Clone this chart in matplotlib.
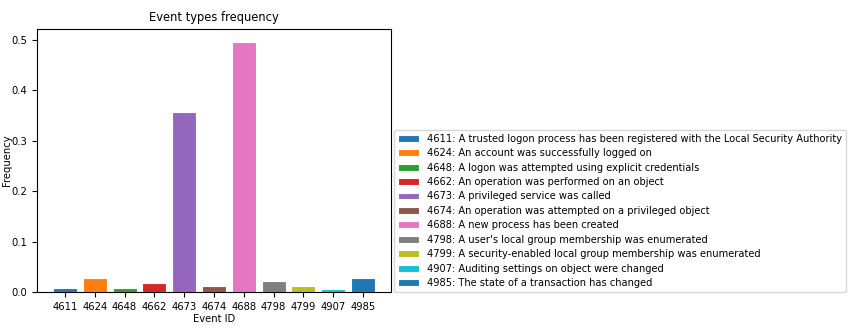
import matplotlib
matplotlib.use("Agg")
import matplotlib.pyplot as plt
import numpy as np

# event ids and their frequency
event_ids = ["4611", "4624", "4648", "4662", "4673", "4674", "4688", "4798", "4799", "4907", "4985"]
frequency = [0.008, 0.028, 0.008, 0.018, 0.357, 0.011, 0.497, 0.021, 0.011, 0.005, 0.027]
descriptions = [
    "A trusted logon process has been registered with the Local Security Authority",
    "An account was successfully logged on",
    "A logon was attempted using explicit credentials",
    "An operation was performed on an object",
    "A privileged service was called",
    "An operation was attempted on a privileged object",
    "A new process has been created",
    "A user's local group membership was enumerated",
    "A security-enabled local group membership was enumerated",
    "Auditing settings on object were changed",
    "The state of a transaction has changed",
]
colors = ["tab:blue", "tab:orange", "tab:green", "tab:red", "tab:purple", "tab:brown",
          "tab:pink", "tab:gray", "tab:olive", "tab:cyan", "tab:blue"]

fig = plt.figure(figsize=(8.59, 3.34), dpi=100)
ax = fig.add_axes([37 / 859, 1 - 292 / 334, (391 - 37) / 859, (292 - 29) / 334])

x = np.arange(len(event_ids))
bars = ax.bar(x, frequency, color=colors, edgecolor="white", linewidth=0.8)
for b, eid, desc in zip(bars, event_ids, descriptions):
    b.set_label(eid + ": " + desc)

ax.set_xticks(x)
ax.set_xticklabels(event_ids)
ax.tick_params(labelsize=7.2)
ax.set_ylim(0, 0.522)
ax.set_yticks([0.0, 0.1, 0.2, 0.3, 0.4, 0.5])
ax.set_title("Event types frequency", fontsize=8.3)
ax.set_xlabel("Event ID", fontsize=7.2, labelpad=2)
ax.set_ylabel("Frequency", fontsize=7.2)
ax.yaxis.set_label_coords(-25 / 354, 0.5)

ax.legend(loc="lower left", bbox_to_anchor=(1.008, 0.0), fontsize=7.1,
          handlelength=2.2, labelspacing=0.45, borderaxespad=0.0)

fig.savefig("out.png", dpi=100)
